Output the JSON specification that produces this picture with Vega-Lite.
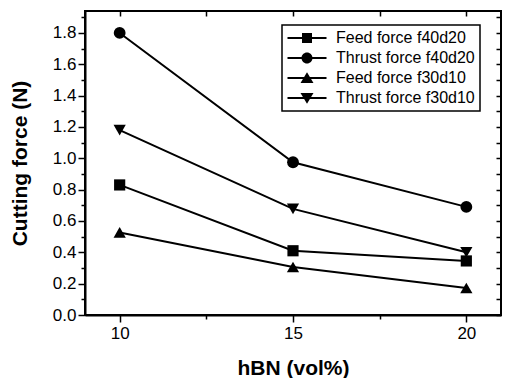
{
  "$schema": "https://vega.github.io/schema/vega-lite/v6.json",
  "width": 416,
  "height": 304,
  "autosize": "none",
  "padding": {"left": 85, "top": 11, "right": 6, "bottom": 63},
  "background": "white",
  "config": {
    "view": {"stroke": "black", "strokeWidth": 2},
    "font": "Liberation Sans",
    "axis": {"grid": false, "domainColor": "black", "domainWidth": 2, "tickColor": "black", "tickWidth": 1.5, "labelColor": "black", "titleColor": "black", "labelFont": "Liberation Sans", "titleFont": "Liberation Sans"},
    "legend": {"strokeColor": "black", "strokeWidth": 1.5, "fillColor": "white", "padding": 5}
  },
  "data": {
    "values": [
      {"series": "Feed force f40d20", "hBN": 10, "force": 0.83},
      {"series": "Feed force f40d20", "hBN": 15, "force": 0.41},
      {"series": "Feed force f40d20", "hBN": 20, "force": 0.345},
      {"series": "Thrust force f40d20", "hBN": 10, "force": 1.80},
      {"series": "Thrust force f40d20", "hBN": 15, "force": 0.975},
      {"series": "Thrust force f40d20", "hBN": 20, "force": 0.69},
      {"series": "Feed force f30d10", "hBN": 10, "force": 0.527},
      {"series": "Feed force f30d10", "hBN": 15, "force": 0.306},
      {"series": "Feed force f30d10", "hBN": 20, "force": 0.172},
      {"series": "Thrust force f30d10", "hBN": 10, "force": 1.18},
      {"series": "Thrust force f30d10", "hBN": 15, "force": 0.677},
      {"series": "Thrust force f30d10", "hBN": 20, "force": 0.40}
    ]
  },
  "layer": [
    {
      "mark": {"type": "line", "color": "black", "strokeWidth": 2},
      "encoding": {
        "x": {
          "field": "hBN", "type": "quantitative",
          "scale": {"domain": [9, 21], "nice": false, "zero": false},
          "axis": {
            "orient": "bottom", "title": "hBN (vol%)", "values": [10, 12.5, 15, 17.5, 20],
            "labelExpr": "datum.value % 5 == 0 ? format(datum.value, 'd') : ''",
            "tickSize": {"condition": {"test": "datum.value % 5 == 0", "value": 7}, "value": 4},
            "labelFontSize": 17, "labelPadding": 3, "labelFlush": false,
            "titleFontSize": 21, "titleFontWeight": "bold", "titlePadding": 16
          }
        },
        "y": {
          "field": "force", "type": "quantitative",
          "scale": {"domain": [0, 1.94], "nice": false},
          "axis": {
            "orient": "left", "title": "Cutting force (N)",
            "values": [0, 0.1, 0.2, 0.3, 0.4, 0.5, 0.6, 0.7, 0.8, 0.9, 1.0, 1.1, 1.2, 1.3, 1.4, 1.5, 1.6, 1.7, 1.8, 1.9],
            "labelExpr": "round(datum.value * 10) % 2 == 0 ? format(datum.value, '.1f') : ''",
            "tickSize": {"condition": {"test": "round(datum.value * 10) % 2 == 0", "value": 7}, "value": 4},
            "labelFontSize": 17, "labelPadding": 2, "labelFlush": false,
            "titleFontSize": 21, "titleFontWeight": "bold", "titlePadding": 22
          }
        },
        "detail": {"field": "series"}
      }
    },
    {
      "mark": {"type": "line", "color": "black", "strokeWidth": 0, "opacity": 0},
      "encoding": {
        "x": {
          "field": "hBN", "type": "quantitative",
          "axis": {"orient": "top", "title": null, "labels": false, "domain": false, "ticks": true,
            "values": [10, 12.5, 15, 17.5, 20], "tickSize": 5, "offset": -5}
        },
        "y": {
          "field": "force", "type": "quantitative",
          "axis": {"orient": "right", "title": null, "labels": false, "domain": false, "ticks": true,
            "values": [0, 0.1, 0.2, 0.3, 0.4, 0.5, 0.6, 0.7, 0.8, 0.9, 1.0, 1.1, 1.2, 1.3, 1.4, 1.5, 1.6, 1.7, 1.8, 1.9],
            "tickSize": 5, "offset": -5}
        },
        "detail": {"field": "series"}
      }
    },
    {
      "transform": [{"filter": "datum.series == 'Feed force f40d20'"}],
      "mark": {"type": "point", "filled": true, "color": "black", "opacity": 1, "size": 125, "shape": "square"},
      "encoding": {
        "x": {"field": "hBN", "type": "quantitative", "axis": null},
        "y": {"field": "force", "type": "quantitative", "axis": null}
      }
    },
    {
      "transform": [{"filter": "datum.series == 'Thrust force f40d20'"}],
      "mark": {"type": "point", "filled": true, "color": "black", "opacity": 1, "size": 140, "shape": "circle"},
      "encoding": {
        "x": {"field": "hBN", "type": "quantitative", "axis": null},
        "y": {"field": "force", "type": "quantitative", "axis": null}
      }
    },
    {
      "transform": [{"filter": "datum.series == 'Feed force f30d10'"}],
      "mark": {"type": "point", "filled": true, "color": "black", "opacity": 1, "size": 150, "shape": "triangle-up"},
      "encoding": {
        "x": {"field": "hBN", "type": "quantitative", "axis": null},
        "y": {"field": "force", "type": "quantitative", "axis": null}
      }
    },
    {
      "transform": [{"filter": "datum.series == 'Thrust force f30d10'"}],
      "mark": {"type": "point", "filled": true, "color": "black", "opacity": 1, "size": 150, "shape": "triangle-down"},
      "encoding": {
        "x": {"field": "hBN", "type": "quantitative", "axis": null},
        "y": {"field": "force", "type": "quantitative", "axis": null}
      }
    },
    {
      "mark": {"type": "point", "filled": true, "color": "black", "opacity": 0, "size": 100},
      "encoding": {
        "x": {"field": "hBN", "type": "quantitative", "axis": null},
        "y": {"field": "force", "type": "quantitative", "axis": null},
        "shape": {
          "field": "series", "type": "nominal",
          "scale": {
            "domain": ["Feed force f40d20", "Thrust force f40d20", "Feed force f30d10", "Thrust force f30d10"],
            "range": [
              "M-3.9,-0.2H3.9V0.2H-3.9ZM-1,-1H1V1H-1Z",
              "M-3.9,-0.2H3.9V0.2H-3.9ZM1.1,0A1.1,1.1,0,1,1,-1.1,0A1.1,1.1,0,1,1,1.1,0Z",
              "M-3.9,-0.2H3.9V0.2H-3.9ZM0,-1.15L1.3,1L-1.3,1Z",
              "M-3.9,-0.2H3.9V0.2H-3.9ZM0,1.15L-1.3,-1L1.3,-1Z"
            ]
          },
          "legend": {
            "title": null, "orient": "none", "legendX": 197, "legendY": 14,
            "labelFontSize": 16, "labelColor": "black", "labelFont": "Liberation Sans",
            "symbolSize": 100, "symbolOpacity": 1, "symbolFillColor": "black", "symbolStrokeWidth": 0,
            "symbolOffset": 12, "labelOffset": 21, "rowPadding": 4
          }
        }
      }
    }
  ],
  "resolve": {"axis": {"x": "independent", "y": "independent"}}
}
